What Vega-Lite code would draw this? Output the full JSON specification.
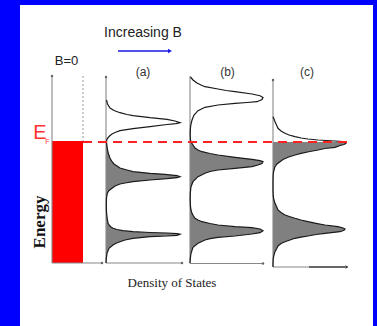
{
  "$schema": "https://vega.github.io/schema/vega-lite/v6.json",
  "width": 377,
  "height": 326,
  "padding": 0,
  "autosize": {"type": "fit", "contains": "padding"},
  "background": "#0000ff",
  "config": {"view": {"stroke": null}},
  "datasets": {
    "frame": [{"x": 20, "x2": 373, "y": 5, "y2": 326}],
    "bar": [{"x": 52, "x2": 83, "y": 141, "y2": 263}],
    "curves": [
      {"p":"a","b":106,"y":100,"x":106.5},{"p":"a","b":106,"y":104,"x":107.5},{"p":"a","b":106,"y":108,"x":110},{"p":"a","b":106,"y":110.5,"x":114},{"p":"a","b":106,"y":112.7,"x":120},{"p":"a","b":106,"y":114.5,"x":127},{"p":"a","b":106,"y":115.7,"x":133},{"p":"a","b":106,"y":117.7,"x":150},{"p":"a","b":106,"y":119.3,"x":167},{"p":"a","b":106,"y":121,"x":175},{"p":"a","b":106,"y":122.7,"x":180},{"p":"a","b":106,"y":123.6,"x":176},{"p":"a","b":106,"y":124.5,"x":167},{"p":"a","b":106,"y":126.7,"x":150},{"p":"a","b":106,"y":128.7,"x":133},{"p":"a","b":106,"y":130.7,"x":120},{"p":"a","b":106,"y":132.5,"x":115},{"p":"a","b":106,"y":134,"x":112},{"p":"a","b":106,"y":136,"x":109.5},{"p":"a","b":106,"y":138.3,"x":107.5},{"p":"a","b":106,"y":140,"x":106.8},{"p":"a","b":106,"y":142,"x":106.5},{"p":"a","b":106,"y":146,"x":107},{"p":"a","b":106,"y":150,"x":107.5},{"p":"a","b":106,"y":154,"x":108.5},{"p":"a","b":106,"y":158,"x":110},{"p":"a","b":106,"y":161,"x":111.5},{"p":"a","b":106,"y":164,"x":114},{"p":"a","b":106,"y":166,"x":117},{"p":"a","b":106,"y":168,"x":120},{"p":"a","b":106,"y":170,"x":127},{"p":"a","b":106,"y":171.7,"x":133},{"p":"a","b":106,"y":173.3,"x":150},{"p":"a","b":106,"y":174.3,"x":165},{"p":"a","b":106,"y":175.7,"x":177},{"p":"a","b":106,"y":176.7,"x":180},{"p":"a","b":106,"y":177.7,"x":177},{"p":"a","b":106,"y":178.7,"x":167},{"p":"a","b":106,"y":180,"x":150},{"p":"a","b":106,"y":181.7,"x":133},{"p":"a","b":106,"y":183,"x":125},{"p":"a","b":106,"y":184,"x":120},{"p":"a","b":106,"y":186,"x":115},{"p":"a","b":106,"y":188.3,"x":112},{"p":"a","b":106,"y":190.5,"x":109},{"p":"a","b":106,"y":193.3,"x":107.3},{"p":"a","b":106,"y":198,"x":106.5},{"p":"a","b":106,"y":205,"x":106.3},{"p":"a","b":106,"y":212,"x":106.5},{"p":"a","b":106,"y":217,"x":107},{"p":"a","b":106,"y":220,"x":107.5},{"p":"a","b":106,"y":223,"x":108},{"p":"a","b":106,"y":225,"x":109},{"p":"a","b":106,"y":227,"x":111},{"p":"a","b":106,"y":228.3,"x":113},{"p":"a","b":106,"y":229.5,"x":117},{"p":"a","b":106,"y":230.7,"x":123},{"p":"a","b":106,"y":231.7,"x":133},{"p":"a","b":106,"y":232.5,"x":150},{"p":"a","b":106,"y":233,"x":167},{"p":"a","b":106,"y":233.6,"x":177},{"p":"a","b":106,"y":234.2,"x":180},{"p":"a","b":106,"y":235.3,"x":177},{"p":"a","b":106,"y":236,"x":167},{"p":"a","b":106,"y":236.7,"x":150},{"p":"a","b":106,"y":238.3,"x":133},{"p":"a","b":106,"y":240,"x":125},{"p":"a","b":106,"y":241.7,"x":120},{"p":"a","b":106,"y":243.3,"x":116},{"p":"a","b":106,"y":245,"x":113},{"p":"a","b":106,"y":248.3,"x":109},{"p":"a","b":106,"y":253.3,"x":107},{"p":"a","b":106,"y":258.3,"x":106.3},{"p":"a","b":106,"y":263,"x":106},
      {"p":"b","b":190,"y":77,"x":190.5},{"p":"b","b":190,"y":80,"x":193},{"p":"b","b":190,"y":83,"x":197},{"p":"b","b":190,"y":85,"x":201},{"p":"b","b":190,"y":86.7,"x":205},{"p":"b","b":190,"y":89,"x":218},{"p":"b","b":190,"y":90.5,"x":226},{"p":"b","b":190,"y":91.7,"x":235},{"p":"b","b":190,"y":94,"x":252},{"p":"b","b":190,"y":95.7,"x":260},{"p":"b","b":190,"y":97.5,"x":263},{"p":"b","b":190,"y":99.5,"x":262},{"p":"b","b":190,"y":101.7,"x":257},{"p":"b","b":190,"y":102.5,"x":247},{"p":"b","b":190,"y":103.3,"x":235},{"p":"b","b":190,"y":105,"x":218},{"p":"b","b":190,"y":107.3,"x":205},{"p":"b","b":190,"y":110.7,"x":198},{"p":"b","b":190,"y":115,"x":194},{"p":"b","b":190,"y":120,"x":192},{"p":"b","b":190,"y":125,"x":190.8},{"p":"b","b":190,"y":130,"x":190.3},{"p":"b","b":190,"y":135,"x":190.2},{"p":"b","b":190,"y":139,"x":190.4},{"p":"b","b":190,"y":142,"x":191},{"p":"b","b":190,"y":145,"x":193},{"p":"b","b":190,"y":148,"x":195},{"p":"b","b":190,"y":150,"x":198},{"p":"b","b":190,"y":151.7,"x":202},{"p":"b","b":190,"y":153.5,"x":210},{"p":"b","b":190,"y":155,"x":218},{"p":"b","b":190,"y":157.3,"x":235},{"p":"b","b":190,"y":159.3,"x":252},{"p":"b","b":190,"y":160.7,"x":260},{"p":"b","b":190,"y":161.7,"x":263},{"p":"b","b":190,"y":163.5,"x":262},{"p":"b","b":190,"y":165,"x":258},{"p":"b","b":190,"y":166.7,"x":252},{"p":"b","b":190,"y":168.3,"x":235},{"p":"b","b":190,"y":170,"x":218},{"p":"b","b":190,"y":171.5,"x":210},{"p":"b","b":190,"y":173.3,"x":205},{"p":"b","b":190,"y":176.7,"x":198},{"p":"b","b":190,"y":181.7,"x":193},{"p":"b","b":190,"y":186.7,"x":191},{"p":"b","b":190,"y":193,"x":190.3},{"p":"b","b":190,"y":200,"x":190.2},{"p":"b","b":190,"y":206.7,"x":190.5},{"p":"b","b":190,"y":210,"x":191},{"p":"b","b":190,"y":213.3,"x":192},{"p":"b","b":190,"y":216,"x":193.5},{"p":"b","b":190,"y":218.3,"x":195},{"p":"b","b":190,"y":220,"x":198},{"p":"b","b":190,"y":221.7,"x":202},{"p":"b","b":190,"y":223.5,"x":210},{"p":"b","b":190,"y":225,"x":218},{"p":"b","b":190,"y":226.7,"x":235},{"p":"b","b":190,"y":227.7,"x":252},{"p":"b","b":190,"y":229,"x":260},{"p":"b","b":190,"y":230.7,"x":263},{"p":"b","b":190,"y":232.7,"x":260},{"p":"b","b":190,"y":234,"x":252},{"p":"b","b":190,"y":236,"x":235},{"p":"b","b":190,"y":237.3,"x":218},{"p":"b","b":190,"y":238.7,"x":210},{"p":"b","b":190,"y":240,"x":205},{"p":"b","b":190,"y":243.3,"x":198},{"p":"b","b":190,"y":247.3,"x":193},{"p":"b","b":190,"y":253.3,"x":191},{"p":"b","b":190,"y":258.3,"x":190.3},{"p":"b","b":190,"y":263,"x":190},
      {"p":"c","b":273,"y":116.7,"x":273},{"p":"c","b":273,"y":119,"x":274},{"p":"c","b":273,"y":121.7,"x":275},{"p":"c","b":273,"y":125,"x":276.5},{"p":"c","b":273,"y":128.3,"x":278},{"p":"c","b":273,"y":131,"x":281},{"p":"c","b":273,"y":133.3,"x":285},{"p":"c","b":273,"y":135,"x":289},{"p":"c","b":273,"y":136.7,"x":295},{"p":"c","b":273,"y":138,"x":301},{"p":"c","b":273,"y":139,"x":308},{"p":"c","b":273,"y":140,"x":318},{"p":"c","b":273,"y":141,"x":335},{"p":"c","b":273,"y":141.7,"x":343},{"p":"c","b":273,"y":142,"x":345},{"p":"c","b":273,"y":143.3,"x":346},{"p":"c","b":273,"y":144.5,"x":344},{"p":"c","b":273,"y":145.5,"x":340},{"p":"c","b":273,"y":147.3,"x":335},{"p":"c","b":273,"y":148.5,"x":325},{"p":"c","b":273,"y":150,"x":318},{"p":"c","b":273,"y":151.5,"x":310},{"p":"c","b":273,"y":153.3,"x":301},{"p":"c","b":273,"y":155,"x":295},{"p":"c","b":273,"y":157.3,"x":288},{"p":"c","b":273,"y":159.5,"x":283},{"p":"c","b":273,"y":161.7,"x":280},{"p":"c","b":273,"y":164,"x":277},{"p":"c","b":273,"y":166.7,"x":275},{"p":"c","b":273,"y":170,"x":274},{"p":"c","b":273,"y":173,"x":273.3},{"p":"c","b":273,"y":180,"x":273},{"p":"c","b":273,"y":190,"x":273},{"p":"c","b":273,"y":196.7,"x":273.3},{"p":"c","b":273,"y":200,"x":274},{"p":"c","b":273,"y":203.3,"x":275},{"p":"c","b":273,"y":206.5,"x":276.5},{"p":"c","b":273,"y":210,"x":278},{"p":"c","b":273,"y":212.5,"x":281},{"p":"c","b":273,"y":215,"x":285},{"p":"c","b":273,"y":216.7,"x":290},{"p":"c","b":273,"y":218.3,"x":295},{"p":"c","b":273,"y":220,"x":301},{"p":"c","b":273,"y":221.7,"x":308},{"p":"c","b":273,"y":223.3,"x":316},{"p":"c","b":273,"y":225,"x":325},{"p":"c","b":273,"y":226.7,"x":338},{"p":"c","b":273,"y":228,"x":343},{"p":"c","b":273,"y":229,"x":345},{"p":"c","b":273,"y":230.3,"x":344},{"p":"c","b":273,"y":231.7,"x":340},{"p":"c","b":273,"y":233.3,"x":325},{"p":"c","b":273,"y":234.5,"x":316},{"p":"c","b":273,"y":236,"x":308},{"p":"c","b":273,"y":237.2,"x":301},{"p":"c","b":273,"y":238.3,"x":295},{"p":"c","b":273,"y":240,"x":290},{"p":"c","b":273,"y":241.7,"x":285},{"p":"c","b":273,"y":243.5,"x":281},{"p":"c","b":273,"y":246,"x":278},{"p":"c","b":273,"y":249,"x":276.5},{"p":"c","b":273,"y":251.7,"x":275},{"p":"c","b":273,"y":255,"x":274},{"p":"c","b":273,"y":258.3,"x":273.3},{"p":"c","b":273,"y":263,"x":273},{"p":"c","b":273,"y":267,"x":273}
    ],
    "lines": [
      {"k":"axis","x":52,"x2":52,"y":76,"y2":263},
      {"k":"axis","x":52,"x2":102,"y":263,"y2":263},
      {"k":"axis","x":106,"x2":106,"y":77,"y2":263},
      {"k":"axis","x":106,"x2":182,"y":263,"y2":263},
      {"k":"axis","x":190,"x2":190,"y":76,"y2":263.5},
      {"k":"axis","x":190,"x2":263,"y":263.5,"y2":263.5},
      {"k":"axis","x":273,"x2":273,"y":80,"y2":267},
      {"k":"axis","x":273,"x2":309,"y":267,"y2":267},
      {"k":"dark","x":309,"x2":345,"y":267,"y2":267},
      {"k":"guide","x":83,"x2":83,"y":76,"y2":141},
      {"k":"fermi","x":83,"x2":348,"y":142,"y2":142},
      {"k":"arrow","x":118,"x2":168,"y":51,"y2":51}
    ],
    "heads": [
      {"k":"dot","x":52,"y":76},{"k":"dot","x":106,"y":77},{"k":"dot","x":273,"y":80},
      {"k":"dot","x":102,"y":263},{"k":"dot","x":182,"y":263},{"k":"dot","x":263,"y":263.5},
      {"k":"tri","x":347,"y":267},{"k":"btri","x":170,"y":51}
    ],
    "labels": [
      {"r":"head","t":"Increasing B","x":143,"y":33},
      {"r":"sans","t":"B=0","x":66.5,"y":61},
      {"r":"panel","t":"(a)","x":143,"y":72},
      {"r":"panel","t":"(b)","x":227.5,"y":72},
      {"r":"panel","t":"(c)","x":307,"y":72},
      {"r":"ef","t":"E","x":40,"y":133},
      {"r":"efsub","t":"F","x":47.5,"y":142},
      {"r":"xtitle","t":"Density of States","x":172,"y":283},
      {"r":"ytitle","t":"Energy","x":40,"y":222}
    ]
  },
  "encoding": {
    "x": {"field": "x", "type": "quantitative", "scale": {"domain": [0, 377], "nice": false, "zero": false}, "axis": null},
    "y": {"field": "y", "type": "quantitative", "scale": {"domain": [0, 326], "nice": false, "zero": false, "reverse": true}, "axis": null}
  },
  "layer": [
    {"data": {"name": "frame"}, "mark": {"type": "rect", "color": "#ffffff"},
     "encoding": {"x2": {"field": "x2"}, "y2": {"field": "y2"}}},
    {"data": {"name": "bar"}, "mark": {"type": "rect", "color": "#ff0000"},
     "encoding": {"x2": {"field": "x2"}, "y2": {"field": "y2"}}},
    {"data": {"name": "curves"}, "transform": [{"filter": "datum.y >= 142"}],
     "mark": {"type": "area", "orient": "horizontal", "color": "#808080"},
     "encoding": {"x2": {"field": "b"}, "detail": {"field": "p"}}},
    {"data": {"name": "lines"}, "transform": [{"filter": "datum.k === 'axis'"}],
     "mark": {"type": "rule", "color": "#888888", "strokeWidth": 1.1},
     "encoding": {"x2": {"field": "x2"}, "y2": {"field": "y2"}}},
    {"data": {"name": "lines"}, "transform": [{"filter": "datum.k === 'dark'"}],
     "mark": {"type": "rule", "color": "#333333", "strokeWidth": 1.5},
     "encoding": {"x2": {"field": "x2"}, "y2": {"field": "y2"}}},
    {"data": {"name": "lines"}, "transform": [{"filter": "datum.k === 'guide'"}],
     "mark": {"type": "rule", "color": "#999999", "strokeWidth": 1, "strokeDash": [2, 2]},
     "encoding": {"x2": {"field": "x2"}, "y2": {"field": "y2"}}},
    {"data": {"name": "curves"},
     "mark": {"type": "line", "color": "#1a1a1a", "strokeWidth": 1.2},
     "encoding": {"order": {"field": "y", "type": "quantitative"}, "detail": {"field": "p"}}},
    {"data": {"name": "lines"}, "transform": [{"filter": "datum.k === 'fermi'"}],
     "mark": {"type": "rule", "color": "#ff2222", "strokeWidth": 1.8, "strokeDash": [9, 6]},
     "encoding": {"x2": {"field": "x2"}, "y2": {"field": "y2"}}},
    {"data": {"name": "lines"}, "transform": [{"filter": "datum.k === 'arrow'"}],
     "mark": {"type": "rule", "color": "#1a1ae6", "strokeWidth": 1.6},
     "encoding": {"x2": {"field": "x2"}, "y2": {"field": "y2"}}},
    {"data": {"name": "heads"}, "transform": [{"filter": "datum.k === 'dot'"}],
     "mark": {"type": "point", "shape": "circle", "filled": true, "size": 6, "color": "#666666", "opacity": 1}},
    {"data": {"name": "heads"}, "transform": [{"filter": "datum.k === 'tri'"}],
     "mark": {"type": "point", "shape": "triangle-right", "filled": true, "size": 14, "color": "#333333", "opacity": 1}},
    {"data": {"name": "heads"}, "transform": [{"filter": "datum.k === 'btri'"}],
     "mark": {"type": "point", "shape": "triangle-right", "filled": true, "size": 22, "color": "#1a1ae6", "opacity": 1}},
    {"data": {"name": "labels"}, "transform": [{"filter": "datum.r === 'head'"}],
     "mark": {"type": "text", "font": "Liberation Sans", "fontSize": 14, "color": "#222222", "baseline": "middle", "align": "center"},
     "encoding": {"text": {"field": "t"}}},
    {"data": {"name": "labels"}, "transform": [{"filter": "datum.r === 'sans'"}],
     "mark": {"type": "text", "font": "Liberation Sans", "fontSize": 13, "color": "#222222", "baseline": "middle", "align": "center"},
     "encoding": {"text": {"field": "t"}}},
    {"data": {"name": "labels"}, "transform": [{"filter": "datum.r === 'panel'"}],
     "mark": {"type": "text", "font": "Liberation Sans", "fontSize": 12, "color": "#333333", "baseline": "middle", "align": "center"},
     "encoding": {"text": {"field": "t"}}},
    {"data": {"name": "labels"}, "transform": [{"filter": "datum.r === 'ef'"}],
     "mark": {"type": "text", "font": "Liberation Sans", "fontSize": 20, "color": "#ff3333", "baseline": "middle", "align": "center"},
     "encoding": {"text": {"field": "t"}}},
    {"data": {"name": "labels"}, "transform": [{"filter": "datum.r === 'efsub'"}],
     "mark": {"type": "text", "font": "Liberation Sans", "fontSize": 7, "color": "#ff3333", "baseline": "middle", "align": "center"},
     "encoding": {"text": {"field": "t"}}},
    {"data": {"name": "labels"}, "transform": [{"filter": "datum.r === 'xtitle'"}],
     "mark": {"type": "text", "font": "Liberation Serif", "fontSize": 13, "color": "#222222", "baseline": "middle", "align": "center"},
     "encoding": {"text": {"field": "t"}}},
    {"data": {"name": "labels"}, "transform": [{"filter": "datum.r === 'ytitle'"}],
     "mark": {"type": "text", "font": "Liberation Serif", "fontSize": 17, "fontWeight": "bold", "angle": 270, "color": "#111111", "baseline": "middle", "align": "center"},
     "encoding": {"text": {"field": "t"}}}
  ]
}
